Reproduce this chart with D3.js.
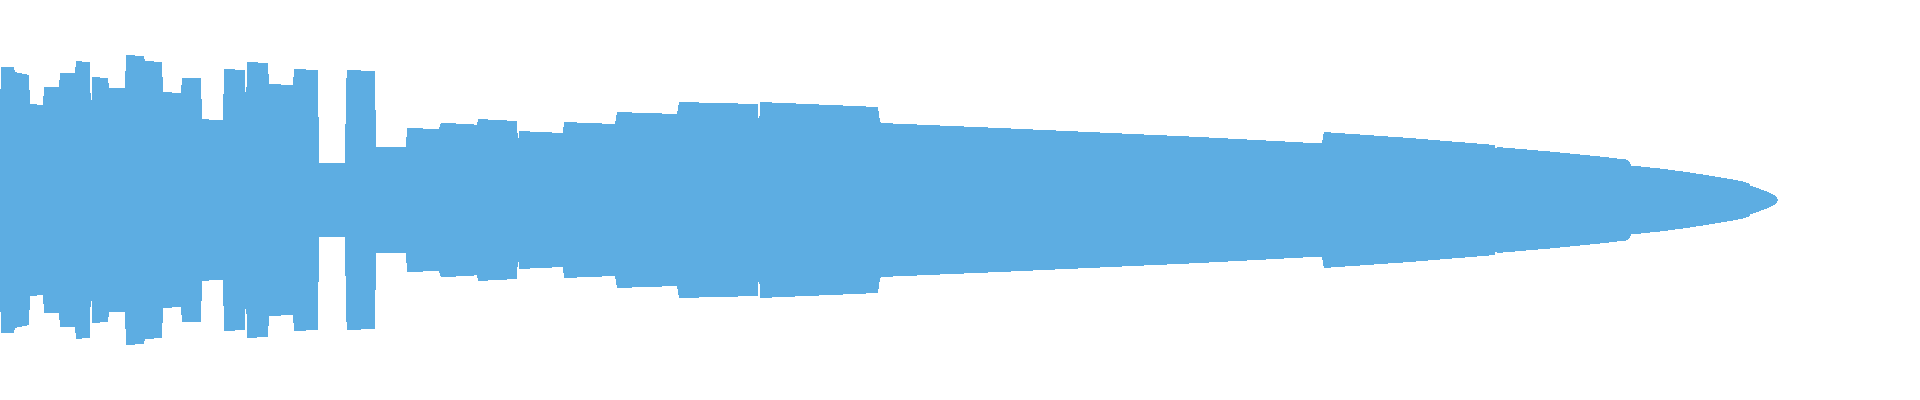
<!DOCTYPE html>
<html>
<head>
<meta charset="utf-8">
<script src="https://cdn.jsdelivr.net/npm/d3@7"></script>
<style>
  html, body { margin: 0; padding: 0; background: #ffffff; }
  svg { display: block; }
</style>
</head>
<body>
<svg id="chart" width="1920" height="400"></svg>
<script>
// Frame index of each sample
const frames = [
  0, 0.5, 7, 7.5, 12, 14.5, 15, 21.5, 22, 29.5,
  30, 37.5, 38, 43.5, 45, 45.5, 46, 54, 54.5, 62.5,
  63, 72, 72.5, 81, 81.5, 90.5, 91, 100.5, 101, 107.5,
  111.5, 112, 122.5, 123, 123.5, 134, 134.5, 146.5, 147, 159,
  159.5, 172.5, 173, 173.5, 187.5, 188, 203, 203.5, 219.5, 220.5,
  235, 238.5, 239, 258.5, 259, 259.5, 281.5, 282, 307.5, 308.5,
  338.5, 339.5, 379, 379.5, 380, 439, 440, 440.5, 500, 550,
  600, 661, 661.5, 662, 705, 747.5, 748, 748.5, 775, 800,
  813, 815, 815.5, 830, 845, 856, 865, 872.5, 874.5, 875,
  880, 884, 887, 888.5, 889
];
// Peak amplitude (percent of full scale) at each frame; drawn mirrored
const amplitude = [
  44.5, 66.5, 66.5, 64, 63, 62.5, 48, 47.5, 56.5, 56.5,
  63.5, 63.5, 69.5, 69, 69, 38.5, 61.5, 61, 56, 56,
  72.5, 72, 69.5, 69, 54, 53.5, 61, 61, 40.5, 40,
  40, 65.5, 65, 44, 69, 68.5, 58, 57.5, 65.5, 65,
  18.5, 18.5, 57, 65, 64.5, 26.5, 26.5, 36, 35.5, 38.5,
  38, 37.5, 40.5, 39.5, 27.5, 34.5, 33.5, 39, 38, 44,
  43, 49, 48, 34.5, 49, 46.5, 39, 38.5, 36, 33.75,
  31.5, 28.25, 32, 34, 31, 27.5, 25, 26.5, 24.25, 21.75,
  20.25, 19, 17.25, 15.75, 13.75, 12, 10.5, 9, 8.25, 7.25,
  5.5, 4, 2.5, 1.25, 0
];

const data = frames.map((f, i) => ({ f, a: amplitude[i] }));

const width = 1920, height = 400;
const svg = d3.select("#chart");

const x = d3.scaleLinear().domain([0, 960]).range([0, width]);
const y = d3.scaleLinear().domain([-100, 100]).range([height, 0]);

const area = d3.area()
  .x(d => x(d.f))
  .y0(d => y(-d.a))
  .y1(d => y(d.a))
  .curve(d3.curveLinear);

svg.append("path")
  .datum(data)
  .attr("d", area)
  .attr("fill", "#5DADE2")
  .attr("shape-rendering", "crispEdges");
</script>
</body>
</html>
